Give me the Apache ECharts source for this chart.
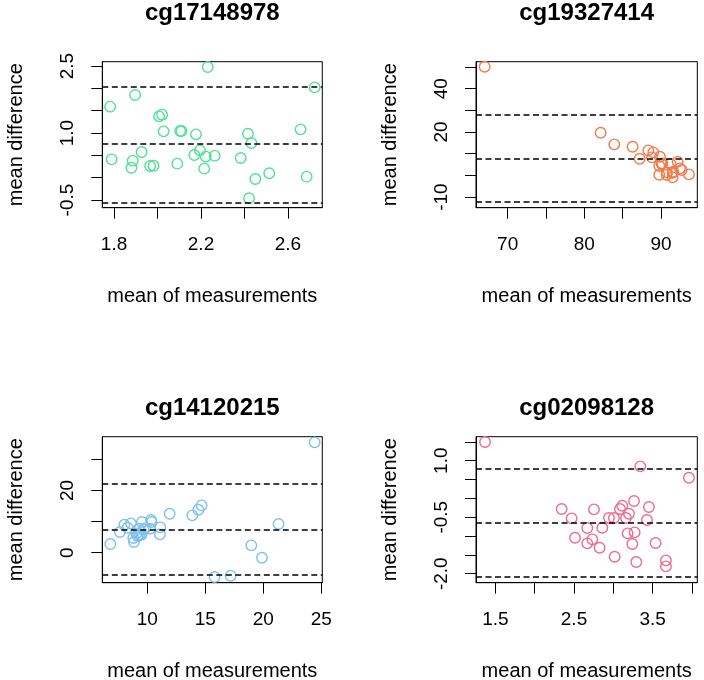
<!DOCTYPE html>
<html>
<head>
<meta charset="utf-8">
<script src="https://cdn.jsdelivr.net/npm/echarts@6/dist/echarts.min.js"></script>
<style>html,body{margin:0;padding:0;background:#fff}#c{width:704px;height:680px}</style>
</head>
<body>
<div id="c"></div>
<script>
// ---- data ----
const titles = ["cg17148978", "cg19327414", "cg14120215", "cg02098128"];
const colors = ["#4EE294", "#F47B4B", "#7EC0EE", "#EE6A8F"];

const p1x = [2.231,2.723,1.897,1.782,2.007,2.021,2.028,2.104,2.110,2.177,2.416,2.432,2.658,1.789,1.886,1.880,1.927,1.966,1.982,2.091,2.169,2.195,2.222,2.263,2.215,2.383,2.514,2.450,2.421,2.686];
const p1y = [2.478,2.022,1.851,1.590,1.373,1.411,1.037,1.045,1.045,0.970,0.985,0.777,1.082,0.411,0.381,0.224,0.575,0.261,0.269,0.314,0.508,0.612,0.471,0.493,0.202,0.441,0.098,-0.029,-0.462,0.023];
const p1lim = [2.037, 0.746, -0.552];

const p2x = [67.0,82.13,83.91,86.30,87.22,88.35,89.0,88.83,89.87,90.09,89.78,89.78,90.74,91.26,91.52,91.52,92.17,92.48,92.70,93.65,90.78,91.61,90.17];
const p2y = [50.15,19.69,14.31,13.23,7.69,11.54,10.62,8.31,8.62,5.23,4.31,0.31,0.31,5.23,1.23,-0.92,6.31,3.23,2.46,0.46,1.38,1.69,5.54];
const p2lim = [28.15, 7.69, -12.3];

const p3x = [24.43,6.81,7.64,8.02,8.59,8.30,8.79,8.85,9.08,9.28,9.51,9.25,9.54,9.66,9.37,10.32,10.37,10.23,11.12,11.09,11.93,13.88,14.40,14.68,15.80,17.18,18.97,19.89,21.32,9.14,9.83];
const p3y = [35.48,2.79,6.65,9.0,9.43,8.04,4.72,3.43,6.22,5.57,5.79,7.72,9.86,7.5,5.9,10.5,9.86,7.72,8.15,5.9,12.54,12.0,13.83,15.22,-7.82,-7.4,2.36,-1.61,9.22,5.36,7.9];
const p3lim = [22.3, 7.5, -6.97];

const p4x = [1.369,3.343,3.962,2.343,2.470,2.513,2.669,2.669,2.733,2.754,2.826,2.860,2.945,3.008,3.017,3.085,3.114,3.161,3.199,3.182,3.271,3.263,3.242,3.292,3.453,3.428,3.538,3.669,3.669];
const p4y = [1.496,0.850,0.549,-0.283,-0.531,-1.044,-0.788,-1.195,-1.088,-0.292,-1.310,-0.779,-0.522,-0.522,-1.549,-0.283,-0.195,-0.522,-0.407,-0.929,-0.903,-0.071,-1.212,-1.690,-0.230,-0.575,-1.186,-1.646,-1.805];
const p4lim = [0.788, -0.655, -2.088];

const xTicks = [[1.8,2.0,2.2,2.4,2.6],[70,75,80,85,90],[10,15,20,25],[1.5,2.0,2.5,3.0,3.5,4.0]];
const xTickLabels = [[1.8,2.2,2.6],[70,80,90],[10,15,20,25],[1.5,2.5,3.5]];
const yTicks = [[-0.5,0,0.5,1.0,1.5,2.0,2.5],[-10,0,10,20,30,40,50],[0,10,20,30],[-2.0,-1.5,-1.0,-0.5,0,0.5,1.0,1.5]];
const yTickLabels = [[-0.5,1.0,2.5],[-10,20,40],[0,20],[-2.0,-0.5,1.0]];
const xRange = [[1.746,2.758],[65.87,94.74],[6.12,25.09],[1.254,4.068]];
const yRange = [[-0.672,2.597],[-14.92,52.46],[-9.65,37.3],[-2.239,1.637]];
const yDecimals = [1,0,0,1];

// ---- layout ----
const boxes = [
  {l:102.3, r:322.3, t:61.7, b:207.7},
  {l:476, r:697.3, t:61.7, b:207.7},
  {l:102.3, r:322.3, t:436.7, b:582.7},
  {l:476, r:697.3, t:436.7, b:582.7}
];
const W = 704, H = 680;
const FONT = "Liberation Sans, Arial, sans-serif";
const xs = [p1x,p2x,p3x,p4x], ys = [p1y,p2y,p3y,p4y], lims = [p1lim,p2lim,p3lim,p4lim];

const grid = [], xAxis = [], yAxis = [], series = [], graphic = [];
boxes.forEach((bx, i) => {
  grid.push({left: bx.l, top: bx.t, width: bx.r - bx.l, height: bx.b - bx.t,
    show: true, borderColor: '#000', borderWidth: 1, backgroundColor: 'transparent'});
  const dec = yDecimals[i];
  xAxis.push({type: 'value', gridIndex: i, min: xRange[i][0], max: xRange[i][1],
    splitLine: {show: false},
    axisLine: {show: true, onZero: false, lineStyle: {color: '#000', width: 1}},
    axisTick: {show: true, length: 11, lineStyle: {color: '#000', width: 1}, customValues: xTicks[i]},
    axisLabel: {show: true, margin: 28, color: '#000', fontSize: 19, fontFamily: FONT,
      customValues: xTickLabels[i], formatter: v => (i === 3 || i === 0) ? v.toFixed(1) : String(v)}
  });
  yAxis.push({type: 'value', gridIndex: i, min: yRange[i][0], max: yRange[i][1],
    splitLine: {show: false},
    axisLine: {show: true, onZero: false, lineStyle: {color: '#000', width: 1}},
    axisTick: {show: true, length: 11, lineStyle: {color: '#000', width: 1}, customValues: yTicks[i]},
    axisLabel: {show: true, rotate: 90, margin: 25, color: '#000', fontSize: 19, fontFamily: FONT,
      customValues: yTickLabels[i], formatter: v => v.toFixed(dec)}
  });
  series.push({type: 'scatter', xAxisIndex: i, yAxisIndex: i,
    data: xs[i].map((x, k) => [x, ys[i][k]]),
    symbol: 'circle', symbolSize: 10.5,
    itemStyle: {color: 'transparent', borderColor: colors[i], borderWidth: 1.4, opacity: 1},
    emphasis: {disabled: true},
    markLine: {silent: true, symbol: ['none','none'], label: {show: false},
      lineStyle: {color: '#000', type: [6,3.5], width: 1.6},
      data: lims[i].map(v => ({yAxis: v}))}
  });
  const cx = (bx.l + bx.r) / 2, cy = (bx.t + bx.b) / 2;
  const titleY = i < 2 ? 13 : 408;
  graphic.push({type: 'text', x: cx, y: titleY,
    style: {text: titles[i], align: 'center', verticalAlign: 'middle',
      font: 'bold 24px ' + FONT, fill: '#000'}});
  graphic.push({type: 'text', x: cx, y: bx.b + 89,
    style: {text: 'mean of measurements', align: 'center', verticalAlign: 'middle',
      font: '20px ' + FONT, fill: '#000'}});
  graphic.push({type: 'text', x: bx.l - 85.6, y: cy, rotation: Math.PI / 2,
    style: {text: 'mean difference', align: 'center', verticalAlign: 'middle',
      font: '20px ' + FONT, fill: '#000'}});
});

const chart = echarts.init(document.getElementById('c'), null, {renderer: 'canvas', width: W, height: H});
chart.setOption({animation: false, backgroundColor: '#fff', grid, xAxis, yAxis, series, graphic});
</script>
</body>
</html>
